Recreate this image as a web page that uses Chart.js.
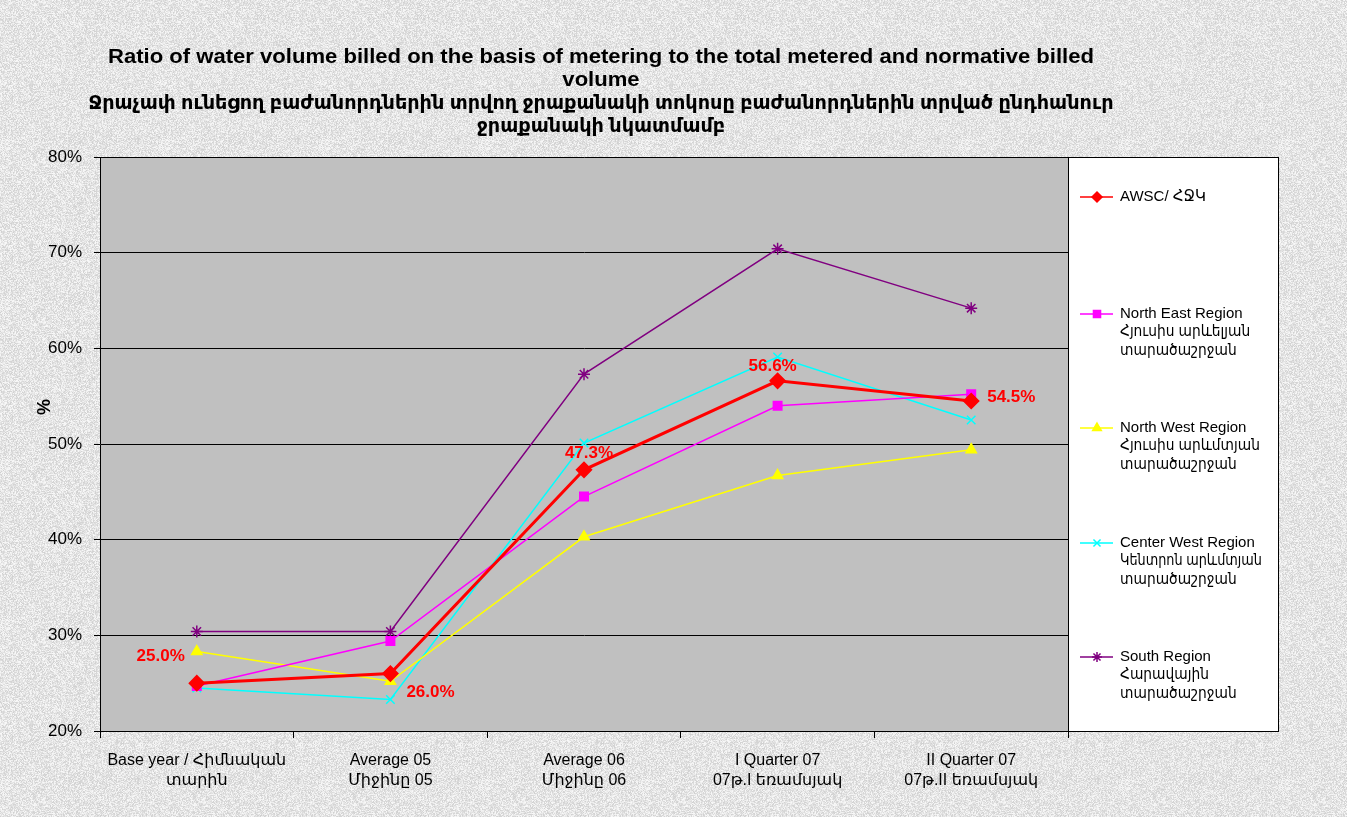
<!DOCTYPE html>
<html>
<head>
<meta charset="utf-8">
<script src="https://cdn.jsdelivr.net/npm/chart.js@4.4.1/dist/chart.umd.min.js"></script>
<style>
  html, body { margin: 0; padding: 0; }
  body { width: 1347px; height: 817px; background-color: #e2e2e2; overflow: hidden; }
  #wrap { position: relative; width: 1347px; height: 817px; }
</style>
</head>
<body>
<div id="wrap"><canvas id="chart" width="1347" height="817"></canvas></div>
<script>
// Data
const categories = [
  ["Base year / Հիմնական", "տարին"],
  ["Average 05", "Միջինը 05"],
  ["Average 06", "Միջինը 06"],
  ["I Quarter 07", "07թ.I եռամսյակ"],
  ["II Quarter 07", "07թ.II եռամսյակ"]
];
const awsc = [25.0, 26.0, 47.3, 56.6, 54.5];
const northEast = [24.7, 29.4, 44.5, 54.0, 55.2];
const northWest = [28.3, 25.2, 40.3, 46.7, 49.4];
const centerWest = [24.5, 23.3, 50.1, 59.1, 52.5];
const south = [30.4, 30.4, 57.3, 70.4, 64.2];
const yTicks = [20, 30, 40, 50, 60, 70, 80];

const titleLines = [
  "Ratio of water volume billed on the basis of metering to the total metered and normative billed",
  "volume",
  "Ջրաչափ ունեցող բաժանորդներին տրվող ջրաքանակի տոկոսը բաժանորդներին տրված ընդհանուր",
  "ջրաքանակի նկատմամբ"
];
const legendLabels = [
  ["AWSC/ ՀՋԿ"],
  ["North East Region", "Հյուսիս արևելյան", "տարածաշրջան"],
  ["North West Region", "Հյուսիս արևմտյան", "տարածաշրջան"],
  ["Center West Region", "Կենտրոն արևմտյան", "տարածաշրջան"],
  ["South Region", "Հարավային", "տարածաշրջան"]
];

const FONT = "Arial, 'Liberation Sans', 'DejaVu Sans', sans-serif";

// speckled background like the original
(function () {
  const c = document.createElement('canvas');
  c.width = c.height = 160;
  const g = c.getContext('2d');
  const img = g.createImageData(160, 160);
  for (let i = 0; i < img.data.length; i += 4) {
    const v = 208 + Math.floor(Math.random() * 42);
    img.data[i] = img.data[i + 1] = img.data[i + 2] = v;
    img.data[i + 3] = 255;
  }
  g.putImageData(img, 0, 0);
  document.body.style.backgroundImage = 'url(' + c.toDataURL() + ')';
})();

const plotBg = {
  id: 'plotBg',
  beforeDraw(chart) {
    const { ctx, chartArea: a } = chart;
    ctx.save();
    ctx.fillStyle = '#c0c0c0';
    ctx.fillRect(a.left, a.top, a.right - a.left, a.bottom - a.top);
    ctx.restore();
  }
};

const titleAndLegend = {
  id: 'titleAndLegend',
  afterDraw(chart) {
    const { ctx, chartArea: a } = chart;
    ctx.save();
    // title: lines 1-2 and 3-4 share a horizontal stretch
    ctx.fillStyle = '#000';
    ctx.textAlign = 'center';
    ctx.textBaseline = 'middle';
    ctx.font = 'bold 20px ' + FONT;
    const ty = [57, 80, 103, 126];
    const s1 = 986 / ctx.measureText(titleLines[0]).width;
    const s2 = 1025 / ctx.measureText(titleLines[2]).width;
    const sc = [s1, s1, s2, s2];
    titleLines.forEach((t, i) => {
      ctx.save();
      ctx.translate(601, ty[i]);
      ctx.scale(sc[i], 1);
      ctx.fillText(t, 0, 0);
      ctx.restore();
    });

    // y axis title
    ctx.save();
    ctx.translate(45, 407);
    ctx.rotate(-Math.PI / 2);
    ctx.font = 'bold 18px ' + FONT;
    ctx.fillText('%', 0, 0);
    ctx.restore();

    // legend box
    const lx = a.right, ly = a.top, lw = 210, lh = a.bottom - a.top;
    ctx.fillStyle = '#fff';
    ctx.fillRect(lx, ly, lw, lh);
    ctx.strokeStyle = '#000';
    ctx.lineWidth = 1;
    ctx.strokeRect(lx + 0.5, ly + 0.5, lw, lh);

    const itemY = [197, 314, 428, 543, 657];
    ctx.textAlign = 'left';
    ctx.font = '15px ' + FONT;
    chart.data.datasets.forEach((ds, i) => {
      const y = itemY[i];
      ctx.strokeStyle = ds.borderColor;
      ctx.lineWidth = 1.5;
      ctx.beginPath();
      ctx.moveTo(lx + 12, y);
      ctx.lineTo(lx + 45, y);
      ctx.stroke();
      ctx.fillStyle = ds.borderColor;
      Chart.helpers.drawPoint(ctx, {
        pointStyle: ds.pointStyle,
        rotation: 0,
        radius: 5,
        borderWidth: 1.5
      }, lx + 29, y);
      ctx.fillStyle = '#000';
      legendLabels[i].forEach((line, k) => {
        // armenian lines run a bit narrower in the original
        const w = ctx.measureText(line).width;
        const s = k > 0 ? Math.min(1, 0.92, 142 / w) : 1;
        ctx.save();
        ctx.translate(lx + 52, y + k * 18.3);
        ctx.scale(s, 1);
        ctx.fillText(line, 0, 0);
        ctx.restore();
      });
    });
    ctx.restore();
  }
};

const valueLabels = {
  id: 'valueLabels',
  afterDatasetsDraw(chart) {
    const { ctx } = chart;
    const meta = chart.getDatasetMeta(0);
    const offs = [[-12, -27, 'right'], [16, 19, 'left'], [5, -17, 'center'], [-5, -15, 'center'], [16, -4, 'left']];
    ctx.save();
    ctx.font = 'bold 17px ' + FONT;
    ctx.fillStyle = '#ff0000';
    ctx.textBaseline = 'middle';
    meta.data.forEach((p, i) => {
      const o = offs[i];
      ctx.textAlign = o[2];
      ctx.fillText(awsc[i].toFixed(1) + '%', p.x + o[0], p.y + o[1]);
    });
    ctx.restore();
  }
};

function series(label, data, color, style, radius, width, order) {
  return {
    label: label,
    data: data,
    borderColor: color,
    backgroundColor: color,
    pointBackgroundColor: color,
    pointBorderColor: color,
    pointStyle: style,
    pointRadius: radius,
    pointBorderWidth: 1.5,
    borderWidth: width,
    tension: 0,
    fill: false,
    order: order
  };
}

new Chart(document.getElementById('chart'), {
  type: 'line',
  data: {
    labels: categories,
    datasets: [
      series('AWSC/ ՀՋԿ', awsc, '#ff0000', 'rectRot', 7.5, 3, 0),
      series('North East Region', northEast, '#ff00ff', 'rect', 6, 1.5, 1),
      series('North West Region', northWest, '#ffff00', 'triangle', 6, 1.5, 2),
      series('Center West Region', centerWest, '#00ffff', 'crossRot', 6, 1.5, 3),
      series('South Region', south, '#800080', 'star', 6, 1.5, 4)
    ]
  },
  options: {
    responsive: false,
    animation: false,
    layout: { padding: { left: 0, right: 279, top: 157, bottom: 0 } },
    plugins: {
      legend: { display: false },
      title: { display: false },
      tooltip: { enabled: false }
    },
    scales: {
      x: {
        offset: true,
        afterFit(scale) { scale.height = 86; },
        grid: {
          offset: true,
          drawOnChartArea: false,
          drawTicks: true,
          tickLength: 7,
          color: '#000'
        },
        border: { color: '#000', width: 1 },
        ticks: {
          color: '#000',
          font: { family: FONT, size: 16, lineHeight: 1.25 },
          padding: 13,
          maxRotation: 0,
          autoSkip: false
        }
      },
      y: {
        min: yTicks[0],
        max: yTicks[yTicks.length - 1],
        afterFit(scale) { scale.width = 100; },
        afterBuildTicks(scale) { scale.ticks = yTicks.map(v => ({ value: v })); },
        grid: { color: '#000', lineWidth: 1, tickLength: 6 },
        border: { color: '#000', width: 1 },
        ticks: {
          color: '#000',
          font: { family: FONT, size: 17 },
          padding: 12,
          callback: v => v + '%'
        }
      }
    }
  },
  plugins: [plotBg, titleAndLegend, valueLabels]
});
</script>
</body>
</html>
